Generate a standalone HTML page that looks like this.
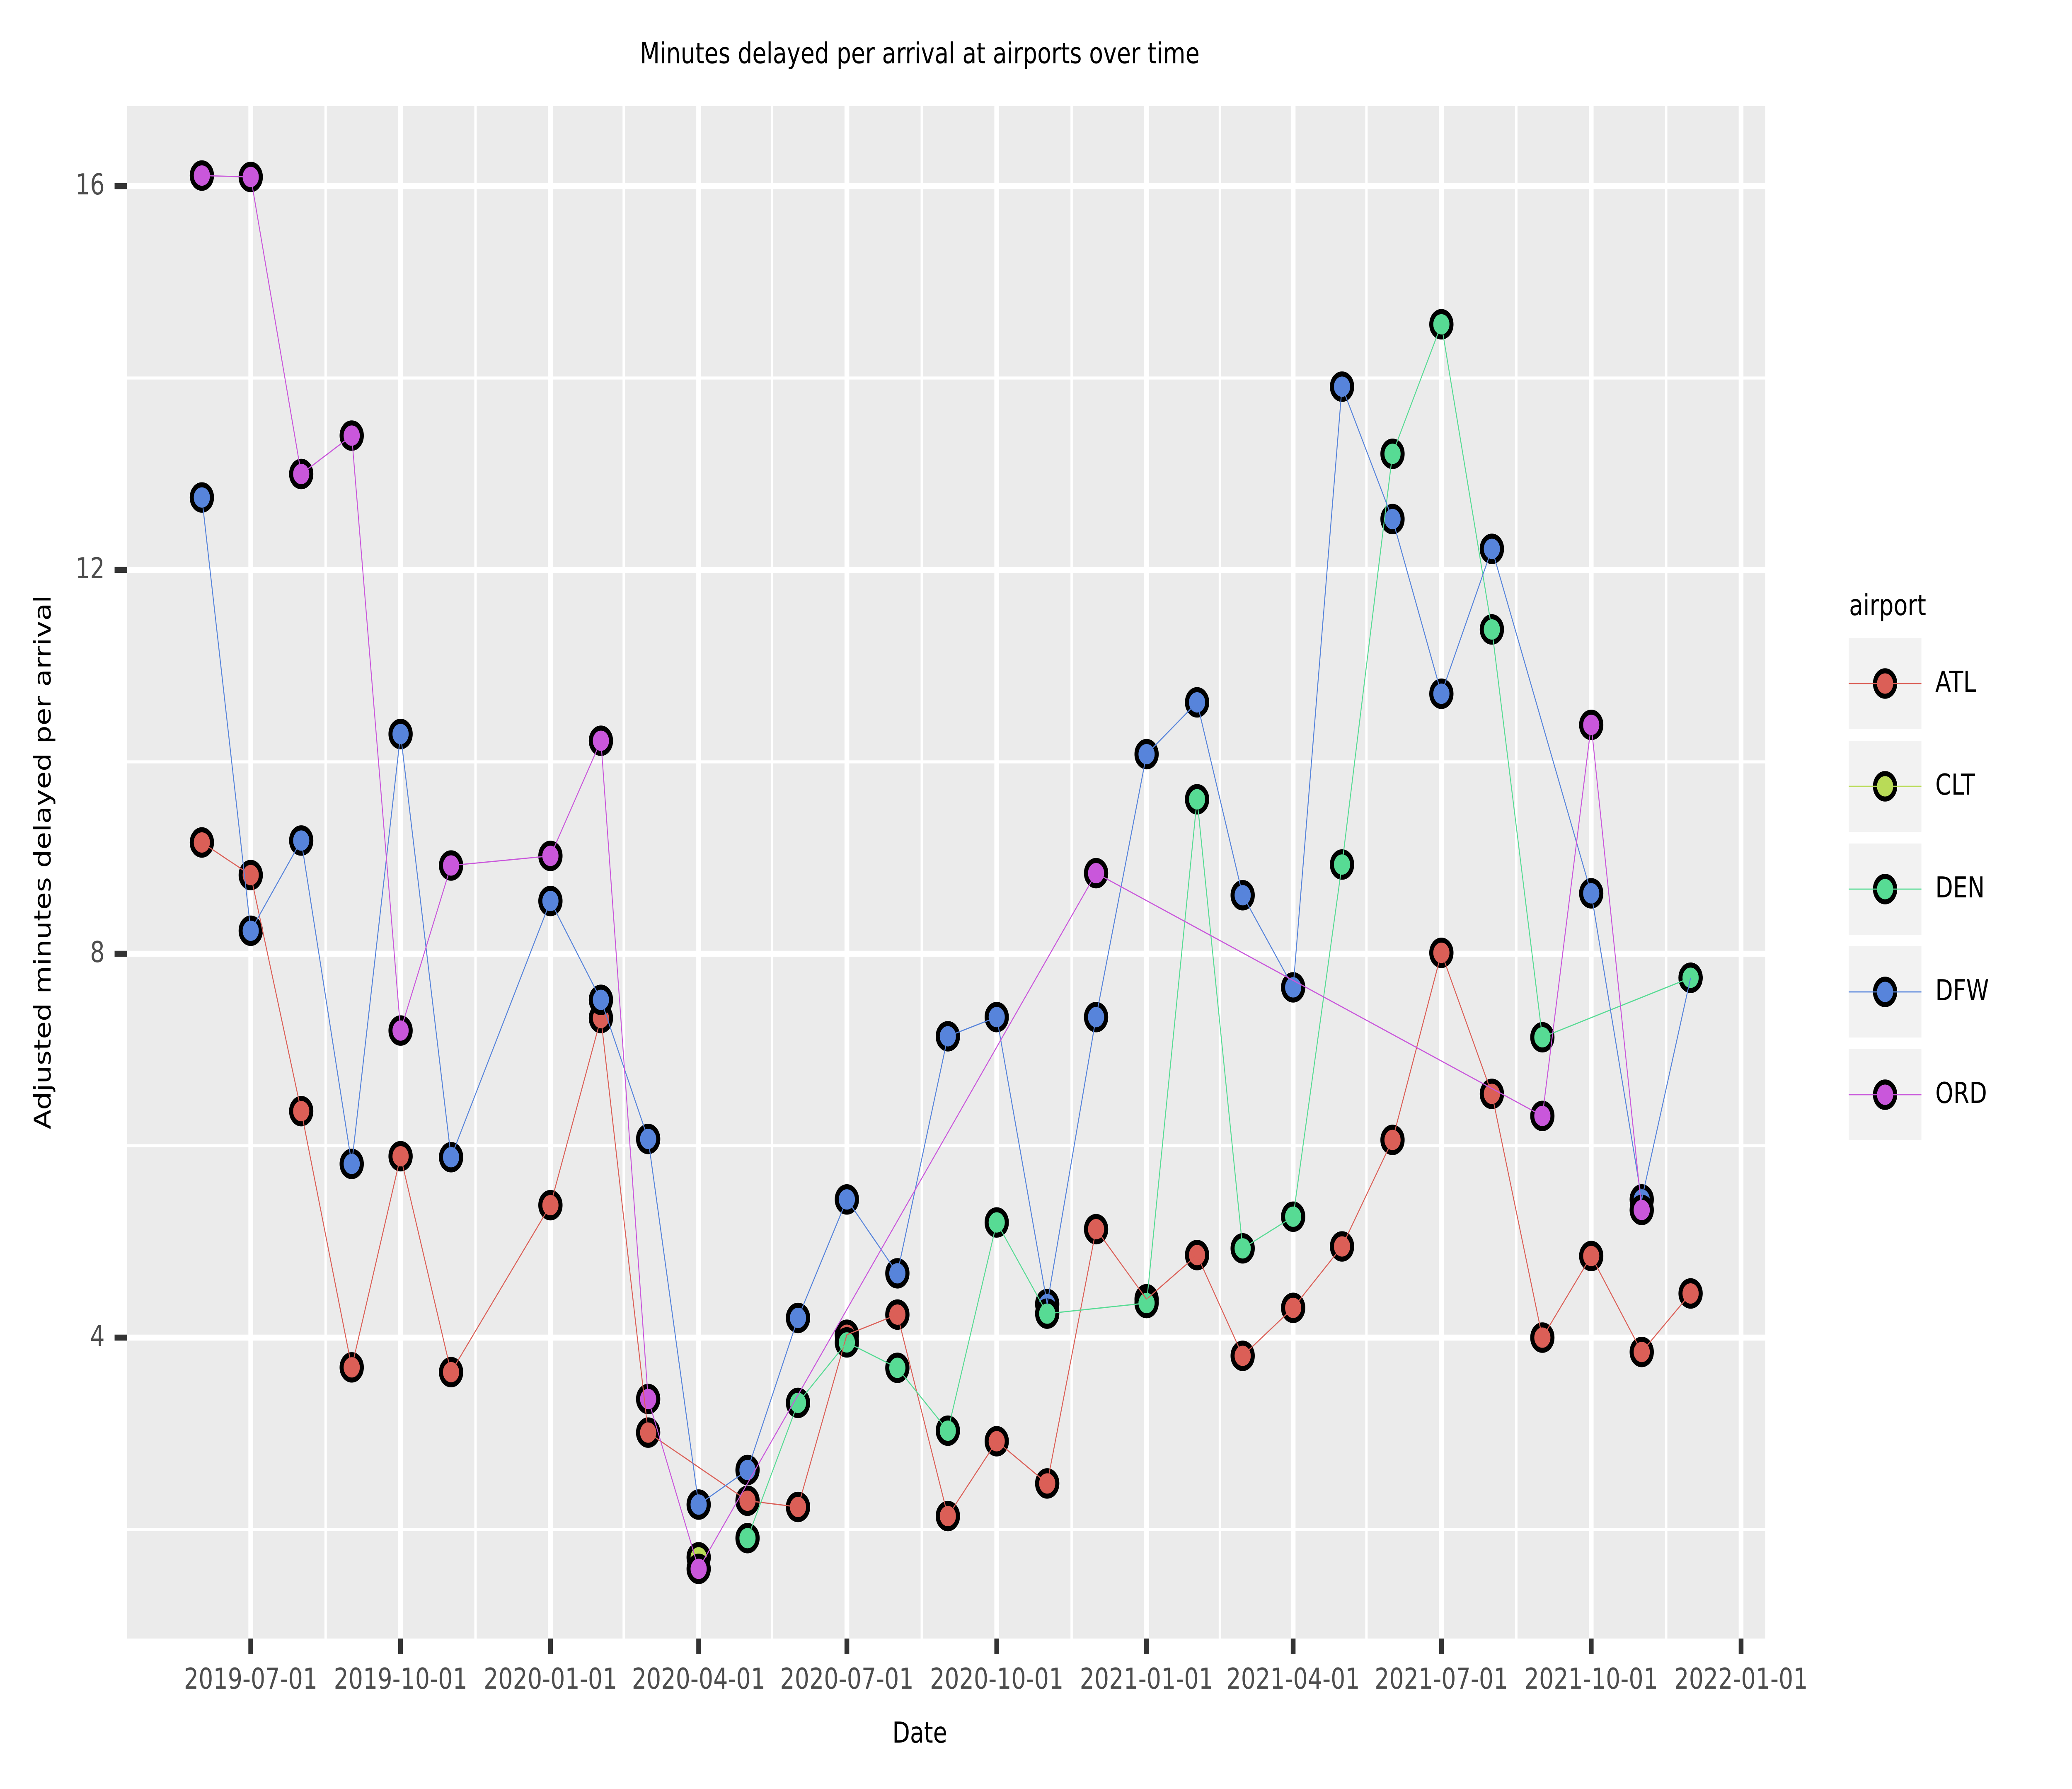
<!DOCTYPE html>
<html lang="en">
<head>
<meta charset="utf-8">
<title>Minutes delayed per arrival at airports over time</title>
<style>
html,body{margin:0;padding:0;background:#fff;width:100%;height:100%;overflow:hidden}
svg{display:block;width:100vw;height:100vh}
text{font-family:"DejaVu Sans","Liberation Sans",sans-serif;font-size:69.6px;text-rendering:geometricPrecision}
</style>
</head>
<body>
<svg id="chart" xmlns="http://www.w3.org/2000/svg" viewBox="0 0 6274 4316" preserveAspectRatio="none">
  <rect x="0" y="0" width="6274" height="4316" fill="#ffffff"/>
  <rect x="385" y="256" width="4960" height="3697" fill="#ebebeb"/>
  <g id="grid-minor"></g>
  <g id="grid-major"></g>
  <g id="points"></g>
  <g id="lines"></g>
  <g id="x-axis"></g>
  <g id="y-axis"></g>
  <text x="2785" y="152.7" text-anchor="middle" fill="#000">Minutes delayed per arrival at airports over time</text>
  <text x="2785" y="4204" text-anchor="middle" fill="#000">Date</text>
  <text transform="translate(153 2080) rotate(-90)" text-anchor="middle" fill="#000">Adjusted minutes delayed per arrival</text>
  <g id="legend">
    <text x="5599" y="1484" fill="#000">airport</text>
  </g>
</svg>
<script>
var airports = ["ATL", "CLT", "DEN", "DFW", "ORD"];
var colors = ["#db5f57", "#b9db57", "#57db94", "#5784db", "#c957db"];

var atlDates = ["2019-06-01","2019-07-01","2019-08-01","2019-09-01","2019-10-01","2019-11-01","2020-01-01","2020-02-01","2020-03-01","2020-05-01","2020-06-01","2020-07-01","2020-08-01","2020-09-01","2020-10-01","2020-11-01","2020-12-01","2021-01-01","2021-02-01","2021-03-01","2021-04-01","2021-05-01","2021-06-01","2021-07-01","2021-08-01","2021-09-01","2021-10-01","2021-11-01","2021-12-01"];
var atlValues = [9.16,8.82,6.36,3.69,5.89,3.64,5.38,7.33,3.01,2.30,2.235,4.03,4.24,2.14,2.92,2.48,5.13,4.40,4.86,3.81,4.31,4.95,6.06,8.01,6.54,4.00,4.85,3.85,4.46];

var cltDates = ["2020-04-01"];
var cltValues = [1.71];

var denDates = ["2020-05-01","2020-06-01","2020-07-01","2020-08-01","2020-09-01","2020-10-01","2020-11-01","2021-01-01","2021-02-01","2021-03-01","2021-04-01","2021-05-01","2021-06-01","2021-07-01","2021-08-01","2021-09-01","2021-12-01"];
var denValues = [1.91,3.32,3.95,3.685,3.03,5.20,4.25,4.36,9.61,4.93,5.26,8.93,13.21,14.56,11.38,7.13,7.75];

var dfwDates = ["2019-06-01","2019-07-01","2019-08-01","2019-09-01","2019-10-01","2019-11-01","2020-01-01","2020-02-01","2020-03-01","2020-04-01","2020-05-01","2020-06-01","2020-07-01","2020-08-01","2020-09-01","2020-10-01","2020-11-01","2020-12-01","2021-01-01","2021-02-01","2021-03-01","2021-04-01","2021-05-01","2021-06-01","2021-07-01","2021-08-01","2021-10-01","2021-11-01","2021-12-01"];
var dfwValues = [12.755,8.24,9.18,5.81,10.29,5.88,8.55,7.52,6.07,2.26,2.62,4.205,5.44,4.67,7.14,7.34,4.35,7.34,10.08,10.62,8.61,7.65,13.91,12.53,10.71,12.22,8.63,5.44,7.75];

var ordDates = ["2019-06-01","2019-07-01","2019-08-01","2019-09-01","2019-10-01","2019-11-01","2020-01-01","2020-02-01","2020-03-01","2020-04-01","2020-12-01","2021-09-01","2021-10-01","2021-11-01"];
var ordValues = [16.11,16.095,13.00,13.40,7.20,8.92,9.02,10.22,3.36,1.59,8.84,6.31,10.385,5.33];

var xTickLabels = ["2019-07-01","2019-10-01","2020-01-01","2020-04-01","2020-07-01","2020-10-01","2021-01-01","2021-04-01","2021-07-01","2021-10-01","2022-01-01"];
var xMinorDates = ["2019-08-16","2019-11-16","2020-02-15","2020-05-16","2020-08-16","2020-11-16","2021-02-15","2021-05-16","2021-08-16","2021-11-16"];
var yTickValues = [16, 12, 8, 4];
var yMinorValues = [14, 10, 6, 2];

var seriesDates = [atlDates, cltDates, denDates, dfwDates, ordDates];
var seriesValues = [atlValues, cltValues, denValues, dfwValues, ordValues];
var pointOrder = [0, 1, 3, 2, 4];

var NS = "http://www.w3.org/2000/svg";
var panelLeft = 385, panelRight = 5345, panelTop = 256, panelBottom = 3953;
var originMs = Date.UTC(2019, 6, 1);

function xScale(dateText) {
  var p = dateText.split("-");
  var days = (Date.UTC(+p[0], +p[1] - 1, +p[2]) - originMs) / 86400000;
  return 759.2 + 4.932 * days;
}
function yScale(value) {
  return 449 + (16 - value) * 231.5;
}
function make(tag, parent) {
  var el = document.createElementNS(NS, tag);
  parent.appendChild(el);
  return el;
}
function setAll(el, props) {
  for (var k in props) el.setAttribute(k, props[k]);
}

var gridMinor = document.getElementById("grid-minor");
var gridMajor = document.getElementById("grid-major");
var xAxis = document.getElementById("x-axis");
var yAxis = document.getElementById("y-axis");
var pointsLayer = document.getElementById("points");
var linesLayer = document.getElementById("lines");
var legend = document.getElementById("legend");

yMinorValues.forEach(function (v) {
  var l = make("line", gridMinor);
  
  
  setAll(l, {x1: panelLeft, x2: panelRight, y1: yScale(v), y2: yScale(v), stroke: "#fff", "stroke-width": 7.2});
});
xMinorDates.forEach(function (d) {
  var l = make("line", gridMinor);
  
  
  setAll(l, {x1: xScale(d), x2: xScale(d), y1: panelTop, y2: panelBottom, stroke: "#fff", "stroke-width": 7.2});
});
yTickValues.forEach(function (v) {
  var y = yScale(v);
  var l = make("line", gridMajor);
  
  
  setAll(l, {x1: panelLeft, x2: panelRight, y1: y, y2: y, stroke: "#fff", "stroke-width": 14.4});
  var t = make("line", yAxis);
  
  
  setAll(t, {x1: 347, x2: panelLeft, y1: y, y2: y, stroke: "#333333", "stroke-width": 14.4});
  var s = make("text", yAxis);
  
  
  setAll(s, {x: 317, y: y + 20, "text-anchor": "end", fill: "#4d4d4d"});
  s.textContent = String(v);
});
xTickLabels.forEach(function (d) {
  var x = xScale(d);
  var l = make("line", gridMajor);
  
  
  setAll(l, {x1: x, x2: x, y1: panelTop, y2: panelBottom, stroke: "#fff", "stroke-width": 14.4});
  var t = make("line", xAxis);
  
  
  setAll(t, {x1: x, x2: x, y1: panelBottom, y2: 3991, stroke: "#333333", "stroke-width": 14.4});
  var s = make("text", xAxis);
  
  
  setAll(s, {x: x, y: 4074, "text-anchor": "middle", fill: "#4d4d4d"});
  s.textContent = d;
});

pointOrder.forEach(function (i) {
  seriesValues[i].forEach(function (v, j) {
    var c = make("circle", pointsLayer);
    
    
    setAll(c, {cx: xScale(seriesDates[i][j]), cy: yScale(v), r: 30.6, fill: colors[i], stroke: "#000", "stroke-width": 12.2});
  });
});

airports.forEach(function (name, i) {
  var coords = seriesValues[i].map(function (v, j) {
    return xScale(seriesDates[i][j]).toFixed(1) + "," + yScale(v).toFixed(1);
  }).join(" ");
  var p = make("polyline", linesLayer);
  
  
  setAll(p, {points: coords, fill: "none", stroke: colors[i], "stroke-width": 2.8, "stroke-linejoin": "round"});

  var top = 1539 + i * 248;
  var cy = top + 110;
  var key = make("rect", legend);
  
  
  setAll(key, {x: 5598, y: top, width: 220, height: 220, fill: "#f2f2f2"});
  var dot = make("circle", legend);
  
  
  setAll(dot, {cx: 5708, cy: cy, r: 30.6, fill: colors[i], stroke: "#000", "stroke-width": 12.2});
  var ln = make("line", legend);
  
  
  setAll(ln, {x1: 5598, x2: 5818, y1: cy, y2: cy, stroke: colors[i], "stroke-width": 2.8});
  var lab = make("text", legend);
  
  
  setAll(lab, {x: 5860, y: cy + 20, fill: "#000"});
  lab.textContent = name;
});
</script>
</body>
</html>
